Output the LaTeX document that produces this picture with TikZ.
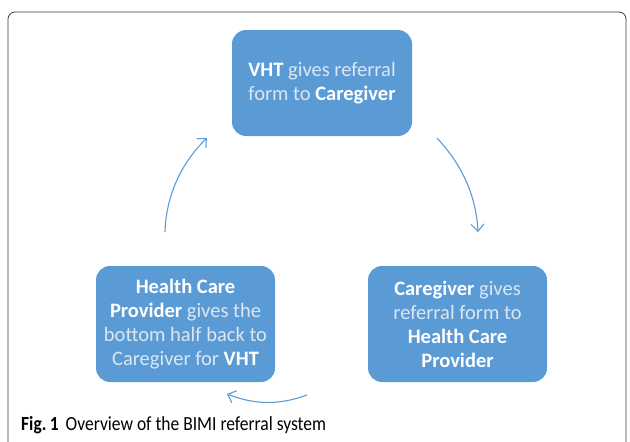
\documentclass[tikz,border=0pt]{standalone}
\usepackage{fontspec}
\setmainfont{Carlito}
\newfontfamily\capfont[FakeStretch=0.875]{Carlito}
\usetikzlibrary{arrows.meta}
\definecolor{boxblue}{HTML}{5B9BD5}
\definecolor{lighttext}{HTML}{DCE6F0}
\definecolor{arrowblue}{HTML}{5B9BD5}
\definecolor{framegray}{HTML}{3A3A3A}
\newcommand{\lt}[1]{\textcolor{lighttext}{#1}}
\tikzset{
  stagebox/.style={fill=boxblue, rounded corners=14pt, text=white, align=center,
    font=\fontsize{20.5}{24}\selectfont, inner sep=0pt},
  cyclearrow/.style={draw=arrowblue, line width=1.1pt, -{Straight Barb[length=7pt,width=13pt]}},
}
\begin{document}
\begin{tikzpicture}[x=1pt,y=-1pt]
\useasboundingbox (0,0) rectangle (630,442);
% frame
\draw[framegray, line width=0.8pt, rounded corners=7pt] (8,448) -- (8,12) -- (626,12) -- (626,448);
% boxes
\node[stagebox, minimum width=180pt, minimum height=106pt] (vht) at (322,83)
  {\textbf{VHT} \lt{gives referral}\\\lt{form to} \textbf{Caregiver}};
\node[stagebox, minimum width=179pt, minimum height=116pt] (hcp) at (185.5,324)
  {\textbf{Health Care}\\\textbf{Provider} \lt{gives the}\\\lt{bottom half back to}\\\lt{Caregiver for} \textbf{VHT}};
\node[stagebox, minimum width=179pt, minimum height=116pt] (cg) at (457.5,324)
  {\textbf{Caregiver} \lt{gives}\\\lt{referral form to}\\\textbf{Health Care}\\\textbf{Provider}};
% arrows
\coordinate (a1s) at (437,138);
\coordinate (a1e) at (478,232);
\coordinate (a2s) at (307,395);
\coordinate (a2e) at (227,394);
\coordinate (a3s) at (165,232);
\coordinate (a3e) at (207,138);
\draw[cyclearrow] (a1s) .. controls (462,165) and (476,195) .. (a1e);
\draw[cyclearrow] (a2s) .. controls (280,405) and (255,405) .. (a2e);
\draw[cyclearrow] (a3s) .. controls (166,195) and (182,162) .. (a3e);
% caption
\node[anchor=west, inner sep=0pt, font=\capfont\fontsize{20}{22}\selectfont] (cap) at (21,425)
  {\textbf{Fig.\,1}\hspace{7pt}Overview of the BIMI referral system};
\end{tikzpicture}
\end{document}
